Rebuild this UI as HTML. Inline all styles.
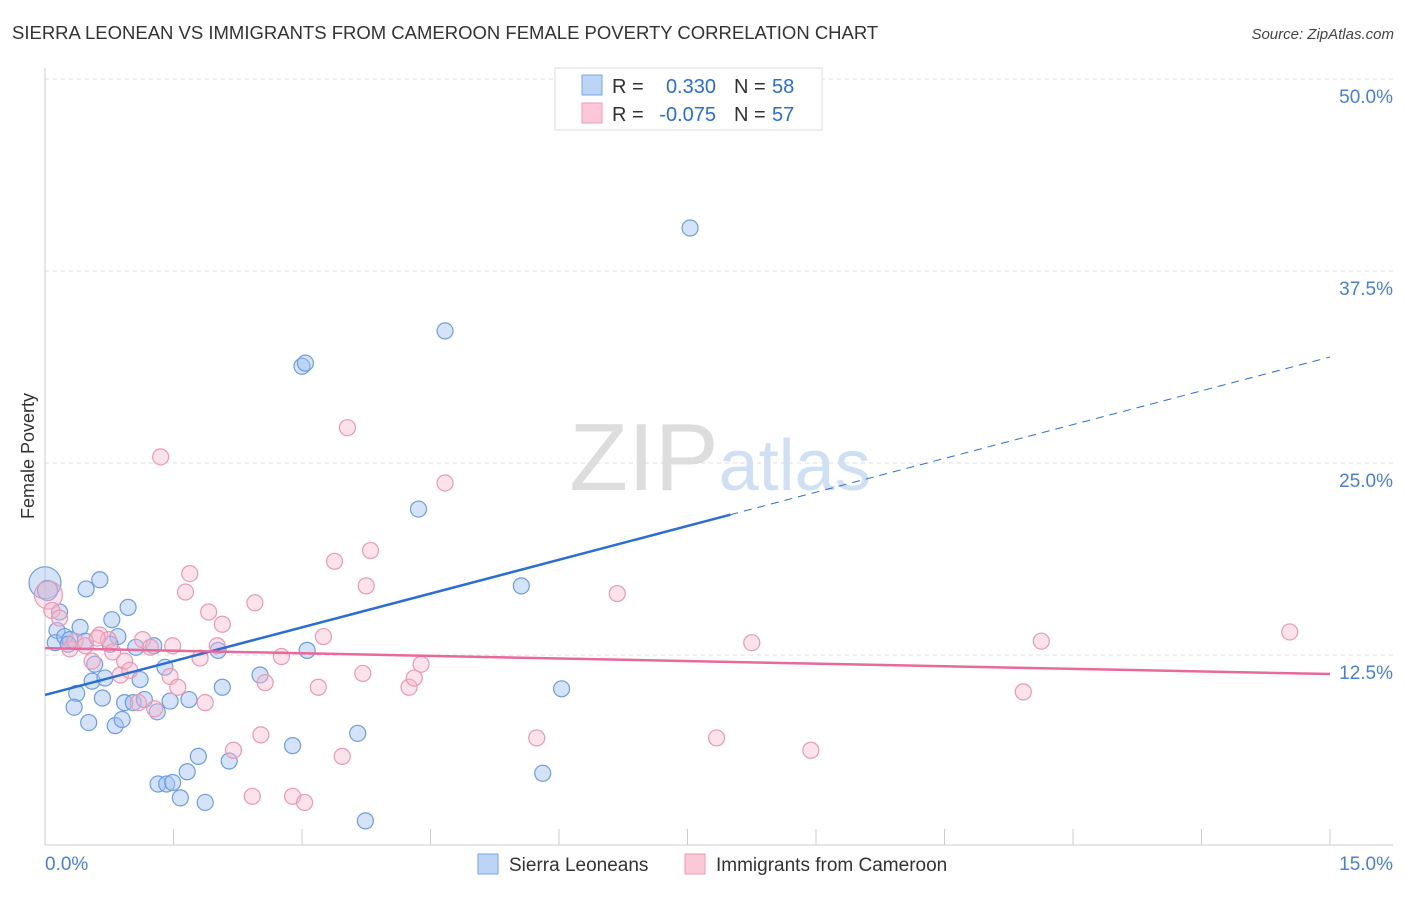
<!DOCTYPE html>
<html><head><meta charset="utf-8"><style>
body{margin:0;background:#fff;font-family:"Liberation Sans",sans-serif}
svg text{font-family:"Liberation Sans",sans-serif}
</style></head><body>
<svg id="chart" width="1406" height="892" xmlns="http://www.w3.org/2000/svg">
<text x="12" y="39" font-size="18.5" fill="#333">SIERRA LEONEAN VS IMMIGRANTS FROM CAMEROON FEMALE POVERTY CORRELATION CHART</text>
<text x="1394" y="39" font-size="15" fill="#444" font-style="italic" text-anchor="end">Source: ZipAtlas.com</text>
<text x="720" y="490" font-size="96" fill="#ddd" text-anchor="middle" font-family="Liberation Serif">ZIP<tspan fill="#cfe0f5" font-family="Liberation Sans" font-size="72">atlas</tspan></text>
<text transform="translate(34,456) rotate(-90)" font-size="18" fill="#333" text-anchor="middle">Female Poverty</text>
<g id="grid"></g><g id="pts"></g><g id="lines"></g>
<g>
<rect x="555" y="68" width="267" height="62" fill="#fff" stroke="#ddd"/>
<rect x="582" y="75" width="20" height="20" fill="#bcd4f6" stroke="#7aa6e6"/>
<rect x="582" y="103" width="20" height="20" fill="#fcc8d8" stroke="#ee9ab7"/>
<text x="612" y="93" font-size="20" fill="#333">R = </text><text x="716" y="93" font-size="20" fill="#2a6dd4" text-anchor="end">0.330</text>
<text x="734" y="93" font-size="20" fill="#333">N = </text><text x="772" y="93" font-size="20" fill="#2a6dd4">58</text>
<text x="612" y="121" font-size="20" fill="#333">R = </text><text x="716" y="121" font-size="20" fill="#2a6dd4" text-anchor="end">-0.075</text>
<text x="734" y="121" font-size="20" fill="#333">N = </text><text x="772" y="121" font-size="20" fill="#2a6dd4">57</text>
</g>
<g>
<rect x="478" y="854" width="20" height="20" fill="#bcd4f6" stroke="#7aa6e6"/>
<text x="509" y="871" font-size="19" fill="#333">Sierra Leoneans</text>
<rect x="685" y="854" width="20" height="20" fill="#fcc8d8" stroke="#ee9ab7"/>
<text x="716" y="871" font-size="19" fill="#333">Immigrants from Cameroon</text>
</g>
<text x="45" y="870" font-size="19" fill="#4a7fd6">0.0%</text>
<text x="1393" y="870" font-size="19" fill="#4a7fd6" text-anchor="end">15.0%</text>
</svg>
<script>
const yTicks=[12.5,25,37.5,50];
const blueX=[0,0.03,0.17,0.14,0.12,0.23,0.29,0.27,0.41,0.48,0.64,0.78,0.85,0.97,0.58,0.55,0.7,1.11,1.06,1.27,1.4,2.02,2.07,2.51,3.06,0.37,0.34,0.67,0.51,0.82,0.9,0.93,1.03,1.16,1.31,1.46,1.68,1.32,1.42,1.49,1.58,1.66,1.79,1.87,2.15,2.89,3.65,3.74,3.0,3.04,4.67,4.36,5.56,6.03,5.81,7.53,0.76,0.47];
const blueY=[17.2,16.7,15.3,14.1,13.3,13.7,13.5,13.2,14.3,16.8,17.4,14.8,13.7,15.6,11.9,10.8,11.0,10.9,13.0,13.1,11.7,12.8,10.4,11.2,12.8,10.0,9.1,9.7,8.1,7.9,8.3,9.4,9.4,9.6,8.8,9.5,9.6,4.1,4.1,4.2,3.2,4.9,5.9,2.9,5.6,6.6,7.4,1.7,31.3,31.5,33.6,22.0,17.0,10.3,4.8,40.3,13.2,13.4];
const pinkX=[0.04,0.08,0.17,0.29,0.35,0.47,0.55,0.64,0.74,0.79,0.88,0.93,0.99,1.14,1.23,1.35,1.46,1.49,1.55,1.64,1.69,1.81,1.87,1.91,2.01,2.07,2.2,2.42,2.45,2.52,2.57,2.76,2.89,3.03,3.19,3.25,3.38,3.47,3.53,3.71,3.75,3.8,4.25,4.31,4.39,4.67,5.74,6.68,7.84,8.25,8.94,11.42,11.63,14.53,1.28,0.61,1.09];
const pinkY=[16.4,15.4,14.9,12.9,13.4,13.1,12.1,13.8,13.5,12.7,11.2,12.1,11.5,13.5,13.0,25.4,11.1,13.1,10.4,16.6,17.8,12.3,9.4,15.3,13.1,14.5,6.3,3.3,15.9,7.3,10.7,12.4,3.3,2.9,10.4,13.7,18.6,5.9,27.3,11.3,17.0,19.3,10.4,11.0,11.9,23.7,7.1,16.5,7.1,13.3,6.3,10.1,13.4,14.0,9.0,13.6,9.4];
const blueR=[16,10,8,8,8,8,8,8,8,8,8,8,8,8,8,8,8,8,8,8,8,8,8,8,8,8,8,8,8,8,8,8,8,8,8,8,8,8,8,8,8,8,8,8,8,8,8,8,8,8,8,8,8,8,8,8,8,8];
const blueTrend=[9.9,31.9]; const pinkTrend=[12.95,11.26];
const X0=45,X1=1330,Y0=847,YPX=15.36;
const sx=v=>X0+v*(X1-X0)/15, sy=v=>Y0-v*YPX;
const NS='http://www.w3.org/2000/svg';
function mk(t,a,p){const e=document.createElementNS(NS,t);for(const k in a)e.setAttribute(k,a[k]);p.appendChild(e);return e;}
const g=document.getElementById('grid');
let e=mk('line',{x1:45,y1:68,x2:45,y2:845,stroke:'#ccc'},g);


e=mk('line',{x1:45,y1:845,x2:1393,y2:845,stroke:'#ccc'},g);


for(let i=0;i<=10;i++){e=mk('line',{x1:sx(i*1.5),y1:829,x2:sx(i*1.5),y2:845,stroke:'#ccc'},g);

}
yTicks.forEach(v=>{e=mk('line',{x1:45,y1:sy(v),x2:1393,y2:sy(v),stroke:'#ddd','stroke-dasharray':'4,4'},g);


const t=mk('text',{x:1393,y:sy(v)+24,'font-size':19,fill:'#4a7fd6','text-anchor':'end'},g);t.textContent=v.toFixed(1)+'%';

});
const p=document.getElementById('pts');
blueX.forEach((x,i)=>{const c=mk('circle',{cx:sx(x),cy:sy(blueY[i]),r:blueR[i],fill:'rgba(160,192,240,0.45)',stroke:'#6d9de2','stroke-width':1.2},p);

});
pinkX.forEach((x,i)=>{const c=mk('circle',{cx:sx(x),cy:sy(pinkY[i]),r:i==0?14:8,fill:'rgba(248,182,202,0.4)',stroke:'#eb98b4','stroke-width':1.2},p);

});
const L=document.getElementById('lines');
const bAt=x=>blueTrend[0]+(blueTrend[1]-blueTrend[0])*x/15;
e=mk('line',{x1:sx(0),y1:sy(bAt(0)),x2:sx(8),y2:sy(bAt(8)),stroke:'#2a6dd4','stroke-width':2.5},L);


e=mk('line',{x1:sx(8),y1:sy(bAt(8)),x2:sx(15),y2:sy(bAt(15)),stroke:'#2a6dd4','stroke-width':1,'stroke-dasharray':'8,6'},L);


e=mk('line',{x1:sx(0),y1:sy(pinkTrend[0]),x2:sx(15),y2:sy(pinkTrend[1]),stroke:'#e8699a','stroke-width':2.5},L);


</script>
</body></html>
